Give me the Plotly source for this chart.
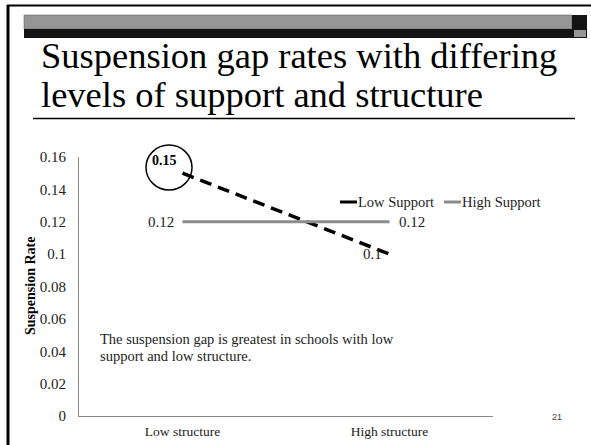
import plotly.graph_objects as go

categories = ["Low structure", "High structure"]
low_support = [0.15, 0.10]
high_support = [0.12, 0.12]
series_names = ["Low Support", "High Support"]
y_tickvals = [0, 0.02, 0.04, 0.06, 0.08, 0.10, 0.12, 0.14, 0.16]
y_ticktext = ["0", "0.02", "0.04", "0.06", "0.08", "0.1", "0.12", "0.14", "0.16"]
title_lines = ["Suspension gap rates with differing", "levels of support and structure"]
note_lines = ["The suspension gap is greatest in schools with low", "support and low structure."]
slide_number = "21"

W, H = 591, 445
L, R, T, B = 79, 98, 157, 29
PW, PH = W - L - R, H - T - B

def px(x):
    return (x - L) / PW

def py(y):
    return (H - B - y) / PH

SERIF = "Liberation Serif, Times New Roman, serif"
BLACK = "#000000"
GRAY = "#8c8c8c"

fig = go.Figure()
fig.add_trace(go.Scatter(x=categories, y=low_support, mode="lines", name=series_names[0],
                         line=dict(color=BLACK, width=3.5, dash="12px,7px"), showlegend=False))
fig.add_trace(go.Scatter(x=categories, y=high_support, mode="lines", name=series_names[1],
                         line=dict(color=GRAY, width=3), showlegend=False))

def fmt(v):
    return f"{v:g}"

ann = []
# data labels
ann.append(dict(x=categories[0], y=low_support[0], xref="x", yref="y", text="<b>" + fmt(low_support[0]) + "</b>",
                showarrow=False, xanchor="right", yanchor="middle", xshift=-4, yshift=13,
                font=dict(family=SERIF, size=14, color="#000")))
ann.append(dict(x=categories[1], y=low_support[1], xref="x", yref="y", text=fmt(low_support[1]),
                showarrow=False, xanchor="right", yanchor="middle", xshift=-6, yshift=0,
                font=dict(family=SERIF, size=15, color="#222")))
ann.append(dict(x=categories[0], y=high_support[0], xref="x", yref="y", text=fmt(high_support[0]),
                showarrow=False, xanchor="right", yanchor="middle", xshift=-7,
                font=dict(family=SERIF, size=15, color="#222")))
ann.append(dict(x=categories[1], y=high_support[1], xref="x", yref="y", text=fmt(high_support[1]),
                showarrow=False, xanchor="left", yanchor="middle", xshift=7,
                font=dict(family=SERIF, size=15, color="#222")))

# title lines
ann.append(dict(x=px(39), y=py(56), xref="paper", yref="paper", text=title_lines[0], showarrow=False,
                xanchor="left", yanchor="middle", font=dict(family=SERIF, size=36.5, color="#000")))
ann.append(dict(x=px(39), y=py(94), xref="paper", yref="paper", text=title_lines[1], showarrow=False,
                xanchor="left", yanchor="middle", font=dict(family=SERIF, size=36.5, color="#000")))

# note
ann.append(dict(x=px(98), y=py(339), xref="paper", yref="paper", text=note_lines[0], showarrow=False,
                xanchor="left", yanchor="middle", font=dict(family=SERIF, size=14.5, color="#222")))
ann.append(dict(x=px(98), y=py(356), xref="paper", yref="paper", text=note_lines[1], showarrow=False,
                xanchor="left", yanchor="middle", font=dict(family=SERIF, size=14.5, color="#222")))

# legend text
ann.append(dict(x=px(358), y=py(202), xref="paper", yref="paper", text=series_names[0], showarrow=False,
                xanchor="left", yanchor="middle", xshift=-2, font=dict(family=SERIF, size=14.5, color="#222")))
ann.append(dict(x=px(462), y=py(202), xref="paper", yref="paper", text=series_names[1], showarrow=False,
                xanchor="left", yanchor="middle", xshift=-2, font=dict(family=SERIF, size=14.5, color="#222")))

# y title
ann.append(dict(x=px(30), y=py(286), xref="paper", yref="paper", text="<b>Suspension Rate</b>", showarrow=False,
                textangle=-90, xanchor="center", yanchor="middle", font=dict(family=SERIF, size=14, color="#000")))

# slide number
ann.append(dict(x=px(557), y=py(417), xref="paper", yref="paper", text=slide_number, showarrow=False,
                xanchor="center", yanchor="middle", font=dict(family="Liberation Sans, Arial", size=9, color="#444")))

shapes = []
def rect(x0, y0, x1, y1, color, line=None):
    shapes.append(dict(type="rect", xref="paper", yref="paper", x0=px(x0), x1=px(x1), y0=py(y0), y1=py(y1),
                       fillcolor=color, line=dict(width=0) if line is None else line, layer="above"))

def hline(x0, x1, y, color, width):
    shapes.append(dict(type="line", xref="paper", yref="paper", x0=px(x0), x1=px(x1), y0=py(y), y1=py(y),
                       line=dict(color=color, width=width)))

# slide frame
hline(7, 591, 5.5, "#000", 2)
shapes.append(dict(type="line", xref="paper", yref="paper", x0=px(8), x1=px(8), y0=py(5), y1=py(445),
                   line=dict(color="#000", width=3)))
# header bars
rect(24, 15, 572, 29, "#969696", line=dict(color="#555", width=0.5))
rect(24, 29, 572, 38, "#141414")
rect(572, 15, 587, 38, "#141414")
rect(574, 30, 586, 37, "#969696")
# title underline
hline(33, 575, 118.5, "#000", 1.5)
# circle
shapes.append(dict(type="circle", xref="paper", yref="paper", x0=px(146), x1=px(192), y0=py(190), y1=py(145),
                   line=dict(color="#000", width=1.5)))
# legend samples
hline(340, 357, 202, BLACK, 3)
hline(444, 461, 202, GRAY, 3)

fig.update_layout(
    width=W, height=H,
    margin=dict(l=L, r=R, t=T, b=B, pad=0),
    paper_bgcolor="white", plot_bgcolor="white",
    showlegend=False,
    annotations=ann, shapes=shapes,
    font=dict(family=SERIF, color="#222"),
    xaxis=dict(type="category", range=[-0.5, 1.5], showline=True, linecolor="#8a8a8a", linewidth=1,
               showgrid=False, zeroline=False, ticks="", ticklabelstandoff=3, automargin=False,
               tickfont=dict(family=SERIF, size=13.5, color="#222")),
    yaxis=dict(range=[0, 0.16], tickvals=y_tickvals, ticktext=y_ticktext, showline=True,
               linecolor="#8a8a8a", linewidth=1, showgrid=False, zeroline=False, ticks="", automargin=False,
               ticklabelstandoff=9, tickfont=dict(family=SERIF, size=15, color="#222")),
)

fig.write_html("out.html", config={"displayModeBar": False},
               post_script="document.body.style.margin='0';document.body.style.overflow='hidden';")
